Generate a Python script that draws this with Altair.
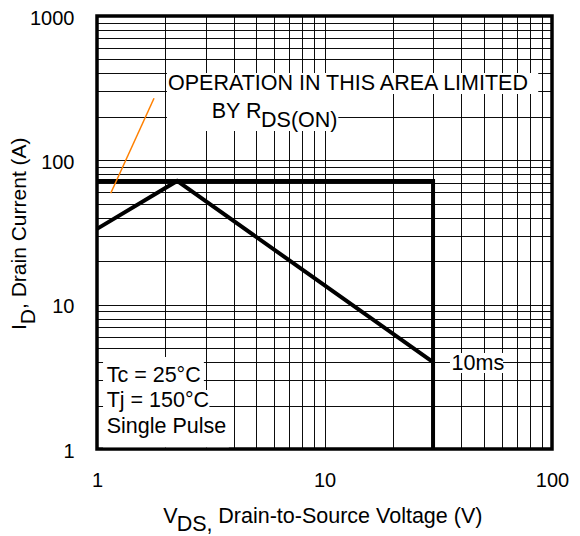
import altair as alt
import pandas as pd

# ---------------- data ----------------
X_GRID = [1, 2, 3, 4, 5, 6, 7, 8, 9, 10, 20, 30, 40, 50, 60, 70, 80, 90, 100]
Y_GRID = [1, 2, 3, 4, 5, 6, 7, 8, 9, 10, 20, 30, 40, 50, 60, 70, 80, 90,
          100, 200, 300, 400, 500, 600, 700, 800, 900, 1000]
X_LABELS = [1, 10, 100]
Y_LABELS = [1, 10, 100, 1000]

# 10 ms DC line
dc_vds = [1, 2.25, 30]
dc_id = [33.5, 72, 4]
# package current limit + max VDS
lim_vds = [1, 30, 30]
lim_id = [72, 72, 1]
# RDS(ON) limit indicator
rds_vds = [1.149, 1.781]
rds_id = [59.1, 269]

# annotations (data coordinates)
ann_text = ["OPERATION IN THIS AREA LIMITED", "BY R", "DS(ON)", "10ms",
            "Tc = 25°C", "Tj = 150°C", "Single Pulse"]
ann_vds = [2.051, 3.193, 5.26, 36.2, 1.103, 1.103, 1.103]
ann_id = [307, 196.5, 170.2, 3.53, 2.93, 1.963, 1.297]

# white label backgrounds (data coordinates)
box_vds = [2.03, 2.03, 35.6, 1.063, 1.063, 1.063]
box_vds2 = [87.0, 11.5, 60.9, 2.95, 3.12, 3.8]
box_id = [403, 288, 4.62, 4.34, 2.56, 1.72]
box_id2 = [288, 159.7, 3.36, 2.56, 1.72, 1.03]

# ---------------- tables ----------------
lines = pd.DataFrame({
    "vds": dc_vds + lim_vds,
    "id": dc_id + lim_id,
    "series": ["dc"] * len(dc_vds) + ["lim"] * len(lim_vds),
    "seq": list(range(len(dc_vds))) + list(range(len(lim_vds))),
})
rds = pd.DataFrame({"vds": rds_vds, "id": rds_id, "seq": list(range(len(rds_vds)))})
ann = pd.DataFrame({"vds": ann_vds, "id": ann_id, "label": ann_text})
boxes = pd.DataFrame({"vds": box_vds, "vds2": box_vds2, "id": box_id, "id2": box_id2})

FONT = "Liberation Sans"
FS = 21.5

xscale = alt.Scale(type="log", domain=[1, 100], nice=False)
yscale = alt.Scale(type="log", domain=[1, 1000], nice=False)

xaxis = alt.Axis(
    values=X_GRID, title=None, grid=True, gridColor="black", gridWidth=1, gridOpacity=0.95,
    domain=False, ticks=False, tickSize=0, labelPadding=21, labelFontSize=20,
    labelColor="black", labelFont=FONT, labelOverlap=False, labelBound=False, labelFlush=False,
    labelExpr=f"indexof({X_LABELS}, datum.value) >= 0 ? format(datum.value, 'd') : ''",
)
yaxis = alt.Axis(
    values=Y_GRID, title=None, grid=True, gridColor="black", gridWidth=1, gridOpacity=0.95,
    domain=False, ticks=False, tickSize=0, labelPadding=23, labelFontSize=20,
    labelColor="black", labelFont=FONT, labelOverlap=False, labelBound=False, labelFlush=False,
    labelOffset=2,
    labelExpr=f"indexof({Y_LABELS}, datum.value) >= 0 ? format(datum.value, 'd') : ''",
)

bg = alt.Chart(boxes).mark_rect(color="white").encode(
    x=alt.X("vds:Q", scale=xscale, axis=xaxis),
    x2="vds2:Q",
    y=alt.Y("id:Q", scale=yscale, axis=yaxis),
    y2="id2:Q",
)

soa = alt.Chart(lines).mark_line(color="black", strokeWidth=4, strokeJoin="miter").encode(
    x=alt.X("vds:Q", scale=xscale),
    y=alt.Y("id:Q", scale=yscale),
    detail="series:N",
    order="seq:Q",
)

rline = alt.Chart(rds).mark_line(color="#ff8000", strokeWidth=1.5).encode(
    x=alt.X("vds:Q", scale=xscale),
    y=alt.Y("id:Q", scale=yscale),
    order="seq:Q",
)

texts = alt.Chart(ann).mark_text(
    align="left", baseline="alphabetic", fontSize=FS, font=FONT, color="black"
).encode(
    x=alt.X("vds:Q", scale=xscale),
    y=alt.Y("id:Q", scale=yscale),
    text="label:N",
)

one = pd.DataFrame({"k": [0]})


def title_part(txt, px, py, angle=0, size=FS):
    kw = dict(align="left", baseline="alphabetic", fontSize=size, font=FONT, color="black")
    if angle:
        kw["angle"] = angle
    return alt.Chart(one).mark_text(**kw).encode(
        x=alt.value(px), y=alt.value(py), text=alt.value(txt)
    )


titles = [
    title_part("V", 66.3, 507),
    title_part("DS,", 79.7, 515),
    title_part("Drain-to-Source Voltage (V)", 121.3, 507),
    title_part("I", -71, 314, 270, 21),
    title_part("D", -62, 308.2, 270, 21),
    title_part(", Drain Current (A)", -71, 293, 270, 21),
]

chart = alt.layer(bg, soa, rline, texts, *titles).properties(
    width=455,
    height=433,
    autosize=alt.AutoSizeParams(type="none"),
    padding={"left": 89, "top": 8, "right": 20, "bottom": 88},
).configure(
    font=FONT, background="white"
).configure_view(stroke="black", strokeWidth=3.5)

chart.save("out.html", embed_options={"renderer": "svg", "actions": False})
